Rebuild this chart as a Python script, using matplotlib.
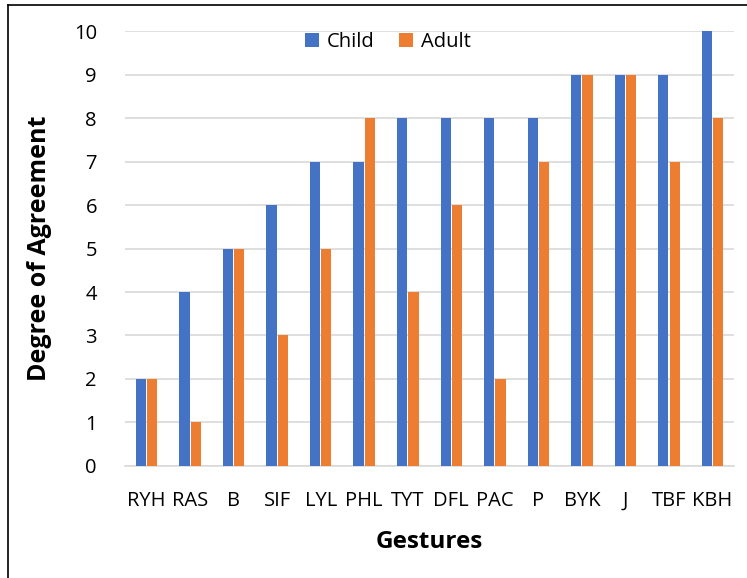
import matplotlib
matplotlib.use("Agg")
import matplotlib.pyplot as plt
import numpy as np
from matplotlib.lines import Line2D

categories = ["RYH", "RAS", "B", "SIF", "LYL", "PHL", "TYT", "DFL", "PAC", "P", "BYK", "J", "TBF", "KBH"]
child = [2, 4, 5, 6, 7, 7, 8, 8, 8, 8, 9, 9, 9, 10]
adult = [2, 1, 5, 3, 5, 8, 4, 6, 2, 7, 9, 9, 7, 8]
yticks = list(range(0, 11))

plt.rcParams['font.family'] = ['Open Sans', 'DejaVu Sans']

fig = plt.figure(figsize=(7.47, 5.78), dpi=100)
ax = fig.add_axes([0.167, 0.194, 0.816, 0.752])

x = np.arange(len(categories))
w = 0.235
ax.bar(x - w/2 - 0.012, child, width=w, color="#4472C4", label="Child", zorder=3)
ax.bar(x + w/2 + 0.012, adult, width=w, color="#ED7D31", label="Adult", zorder=3)

ax.set_xlim(-0.5, len(categories) - 0.5)
ax.set_ylim(0, 10)
ax.set_yticks(yticks)
ax.set_xticks(x)
ax.set_xticklabels(categories)
ax.tick_params(axis='both', length=0, labelsize=14.5, colors="#000000")
ax.tick_params(axis='x', pad=18)
ax.tick_params(axis='y', pad=20)
ax.grid(axis='y', color="#D9D9D9", linewidth=1.2, zorder=0)
for s in ["top", "right", "left"]:
    ax.spines[s].set_visible(False)
ax.spines["bottom"].set_color("#D9D9D9")
ax.spines["bottom"].set_linewidth(1.2)

ax.set_xlabel("Gestures", fontsize=17.5, fontweight="bold", labelpad=14)
ax.set_ylabel("Degree of Agreement", fontsize=18, fontweight="bold", labelpad=16)

leg = ax.legend(loc="upper center", bbox_to_anchor=(0.432, 1.04), ncol=2, frameon=False,
                fontsize=14.5, handlelength=0.7, handleheight=0.7, columnspacing=1.2, handletextpad=0.4)

fig.add_artist(Line2D([8/747, 8/747], [0, 1 - 5/578], color="black", linewidth=1.2, transform=fig.transFigure))
fig.add_artist(Line2D([8/747, 1], [1 - 5/578, 1 - 5/578], color="black", linewidth=1.2, transform=fig.transFigure))

fig.savefig("out.png", dpi=100)
